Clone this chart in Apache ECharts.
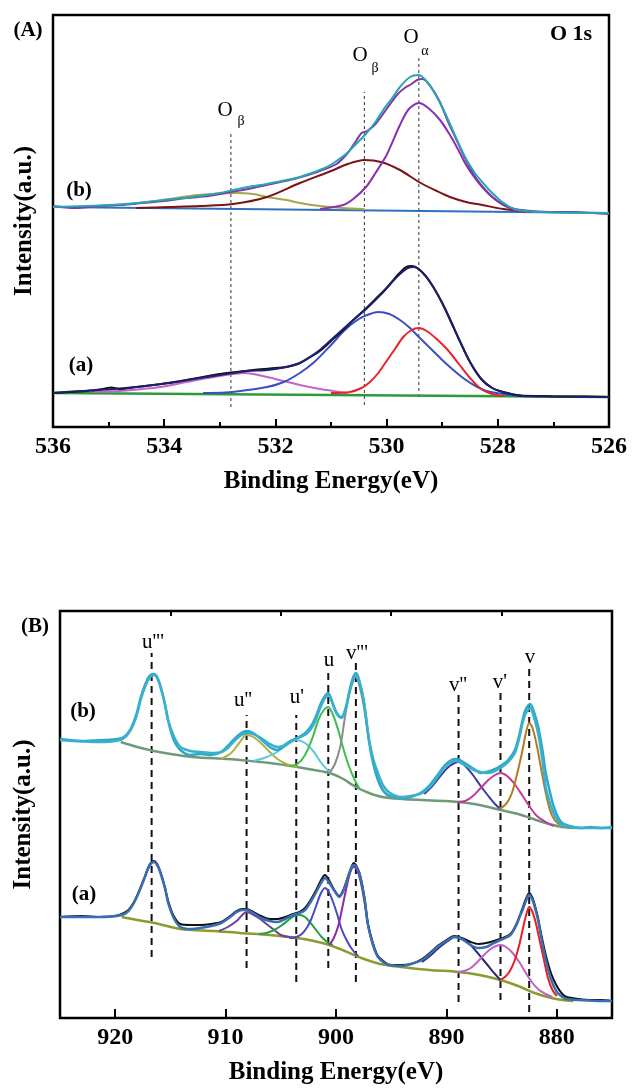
<!DOCTYPE html>
<html><head><meta charset="utf-8">
<script src="https://cdn.jsdelivr.net/npm/echarts@6/dist/echarts.min.js"></script>
<style>html,body{margin:0;padding:0;background:#fff}#c{width:632px;height:1089px}</style>
</head><body><div id="c"></div><script>
// ===== Panel A: O 1s (x: binding energy eV, y: intensity a.u.) =====
const A_TICKS = [526, 528, 530, 532, 534, 536];
// sample (b)
const A_b_base = [[536,220],[526,214]];
const A_b_raw = [[536,221],[535.6,219],[535.2,221],[534.8,222],[534.4,224],[534,226],[533.6,229],[533.2,231],[532.8,235],[532.4,239],[532,244],[531.6,249],[531.2,256],[530.9,263],[530.7,274],[530.55,286],[530.45,294],[530.35,296],[530.2,303],[530.0,318],[529.8,333],[529.65,340],[529.55,343],[529.45,347],[529.35,348],[529.2,340],[529.05,326],[528.9,306],[528.75,288],[528.6,270],[528.45,254],[528.3,242],[528.1,230],[527.9,222],[527.7,218],[527.4,216],[527,215],[526.6,215],[526.3,214],[526,213]];
const A_b_env = [[536,220],[535,222],[534.5,224],[534,227],[533.5,230],[533,234],[532.76,237],[532.5,240],[532.15,243],[531.8,247],[531.56,250],[531.3,255],[531.07,260],[530.9,266],[530.71,274],[530.55,283],[530.39,292],[530.2,305],[530.06,317],[529.9,329],[529.76,340],[529.58,350],[529.42,352],[529.3,347],[529.17,337],[529.0,320],[528.86,303],[528.7,283],[528.57,268],[528.4,253],[528.28,245],[528.1,234],[527.92,225],[527.7,218],[527.4,215.5],[527,214.5],[526,214]];
const A_b_alpha = [[531.2,218],[530.78,222],[530.6,228],[530.37,240],[530.2,254],[530.0,272],[529.76,302],[529.6,318],[529.42,324],[529.25,319],[529.04,307],[528.86,292],[528.7,276],[528.57,262],[528.4,248],[528.28,240],[528.1,230],[527.92,223],[527.7,217],[527.4,215]];
const A_b_beta = [[534.5,219],[533.9,220],[533.36,221],[532.76,223],[532.15,230],[531.56,244],[531.0,256],[530.7,263],[530.4,267],[530.1,265],[529.76,257],[529.42,245],[529.1,236],[528.86,230],[528.57,225],[528.28,222],[527.9,218],[527.5,215.5]];
const A_b_olive = [[535.2,221],[534.8,222],[534.3,225],[533.9,228],[533.4,232],[532.7,234],[532.4,233],[532.15,230],[531.8,227],[531.56,224],[531.2,221],[530.8,219],[530.4,218]];
// sample (a)
const A_a_base = [[536,34],[526,30]];
const A_a_raw = [[536,34],[535.7,35],[535.4,36],[535.1,38],[534.95,39.5],[534.8,38],[534.5,40],[534.2,42],[533.9,44],[533.6,47],[533.3,50],[533.0,53],[532.7,55],[532.4,57],[532.1,58.5],[531.8,60],[531.6,63],[531.4,69],[531.2,76],[531.0,86],[530.8,96],[530.6,107],[530.4,117],[530.2,128],[530.0,139],[529.8,152],[529.65,160],[529.55,161],[529.45,159],[529.3,151],[529.15,139],[529.0,124],[528.85,106],[528.7,88],[528.5,65],[528.3,48],[528.1,39],[527.9,35],[527.6,31.5],[527.2,31],[526.8,30.5],[526.4,30.5],[526,30]];
const A_a_env = [[536,34],[535.5,36],[534.9,38],[534.5,40],[534.06,43],[533.7,46],[533.36,49],[533.0,52],[532.76,54],[532.5,56],[532.15,57],[531.9,59],[531.74,61],[531.56,64],[531.38,70],[531.2,77],[530.96,89],[530.66,104],[530.35,119],[530.06,135],[529.9,145],[529.76,153],[529.62,159],[529.5,160],[529.4,157],[529.28,150],[529.15,139],[529.0,124],[528.86,108],[528.7,88],[528.5,65],[528.28,47],[528.1,39],[527.92,35],[527.56,31],[527,30.5],[526,30]];
const A_a_blue = [[533.3,34],[532.9,34.5],[532.5,37],[532.15,40],[531.85,45],[531.56,54],[531.3,65],[531.0,82],[530.75,97],[530.5,108],[530.3,113],[530.15,115],[529.95,113],[529.76,107],[529.6,100],[529.42,90],[529.2,78],[529.0,67],[528.8,57],[528.6,48],[528.4,41],[528.2,36],[527.9,33],[527.5,31]];
const A_a_red = [[531.0,34],[530.66,35],[530.45,39],[530.3,45],[530.15,54],[530.0,66],[529.85,78],[529.7,90],[529.55,97],[529.42,99],[529.28,96],[529.1,88],[528.9,77],[528.7,63],[528.5,49],[528.3,38],[528.1,33],[527.9,31]];
const A_a_pink = [[535.3,35],[534.8,36],[534.4,38],[534.06,40],[533.6,45],[533.1,50],[532.55,54],[532.15,50],[531.85,46],[531.56,42],[531.2,38],[530.96,36],[530.7,34]];
// reference lines
const A_DASH_E = [532.8, 530.4, 529.42];
const A_DASH_TOP = [295, 335, 372];
const A_DASH_BOT = [20, 22, 30];

// ===== Panel B: Ce 3d =====
const B_TICKS_MAJOR = [920, 910, 900, 890, 880];
const B_TICKS_MINOR = [915, 905, 895, 885];
// sample (b)
const B_b_base = [[919.5,276],[918,271],[916.5,267],[915,264],[913,261],[910,259],[908.7,258],[906,255],[903.5,251],[902,248],[900.6,245],[899.5,240],[898.2,231],[897,225],[895.8,221],[894,219],[892.2,218],[890,217],[888.9,216],[887,213],[885.1,208],[883.5,204],[882.4,200],[881,195],[879.5,191],[878,190]];
const B_b_raw = [[925,279],[923,277],[921,278],[919.8,279],[919.2,281],[918.6,289],[918.1,303],[917.7,320],[917.3,333],[916.9,342],[916.5,344],[916.2,341],[915.9,332],[915.5,314],[915.2,297],[914.7,278],[914.1,268],[913.2,263],[912.3,264],[911.3,263],[910.4,266],[909.8,272],[909.3,278],[908.7,284],[908.1,287],[907.5,285],[906.8,279],[906.0,271],[905.3,268],[904.8,271],[904.3,275],[903.7,279],[903.2,282],[902.6,287],[902.1,295],[901.7,305],[901.4,314],[901.0,322],[900.7,325],[900.4,318],[900.1,309],[899.8,303],[899.5,301],[899.1,311],[898.8,326],[898.5,339],[898.2,345],[897.9,338],[897.5,318],[897.0,276],[896.6,253],[896.2,238],[895.7,227],[895.1,222],[894.1,220],[893.2,221],[892.2,226],[891.5,233],[890.8,243],[890.2,252],[889.7,257],[889.2,259],[888.8,258],[888.2,254],[887.5,249],[886.9,245],[886.4,246],[885.8,248],[885.1,252],[884.4,258],[883.8,268],[883.4,283],[883.1,298],[882.8,309],[882.4,314],[882.1,307],[881.7,292],[881.3,268],[881.0,245],[880.6,225],[880.3,212],[879.9,201],[879.5,195],[878.5,191],[877.7,190],[877,191],[876,190],[875,191]];
const B_b_env = [[925,278],[921.4,276],[920,277],[919.2,280],[918.6,288],[918.1,301],[917.7,318],[917.3,331],[916.9,340],[916.5,343],[916.2,340],[915.9,331],[915.5,314],[915.2,298],[914.7,282],[914.1,271],[913.2,267],[912.3,266],[911.3,265],[910.4,266],[909.8,270],[909.3,276],[908.7,282],[908.1,285],[907.5,284],[906.8,280],[906.0,274],[905.3,271],[904.8,272],[904.3,276],[903.7,279],[903.2,281],[902.6,285],[902.1,292],[901.7,302],[901.4,311],[901.0,320],[900.7,323],[900.4,317],[900.1,308],[899.8,302],[899.5,300],[899.1,310],[898.8,325],[898.5,337],[898.2,342],[897.9,336],[897.5,318],[897.0,278],[896.6,258],[896.2,245],[895.7,232],[895.1,225],[894.1,221],[893.2,222],[892.2,225],[891.5,231],[890.8,241],[890.2,250],[889.7,255],[889.2,257],[888.8,256],[888.2,252],[887.5,248],[886.9,246],[886.4,245],[885.8,246],[885.1,250],[884.4,256],[883.8,265],[883.4,280],[883.1,295],[882.8,305],[882.4,310],[882.1,302],[881.7,285],[881.3,258],[881.0,231],[880.6,214],[880.3,205],[879.9,197],[879.5,193],[878.5,191],[877.7,190],[876,190],[875,190]];
const B_b_u2 = [[910.4,259],[909.5,265],[908.7,276],[908.1,283],[907.5,281],[906.8,275],[906.0,266],[905.3,259],[904.5,254],[903.5,251]];
const B_b_u1 = [[907.5,257],[906.5,260],[905.5,265],[904.6,272],[903.6,278],[902.8,275],[902.0,266],[901.4,256],[900.6,246]];
const B_b_u = [[904.2,252],[903.5,254],[902.8,263],[902.1,281],[901.6,298],[901.1,308],[900.7,311],[900.3,304],[899.8,288],[899.3,268],[898.8,251],[898.3,238],[897.9,230]];
const B_b_v3 = [[900.6,245],[900.1,254],[899.6,272],[899.2,300],[898.8,324],[898.4,338],[898.2,341],[897.9,333],[897.5,313],[897.0,277],[896.5,250],[896.0,233],[895.5,224],[894.8,220]];
const B_b_v2 = [[892.0,224],[891.2,233],[890.4,244],[889.7,252],[888.9,256],[888.3,252],[887.6,243],[886.9,232],[886.2,222],[885.6,214],[885.1,209]];
const B_b_v1 = [[889.0,216],[888.3,217],[887.6,222],[886.9,230],[886.2,238],[885.6,243],[885.1,245],[884.5,242],[883.9,235],[883.2,224],[882.5,212],[881.8,202],[881.0,196],[880.3,192]];
const B_b_v = [[885.2,209],[884.6,214],[884.1,224],[883.6,244],[883.1,268],[882.8,285],[882.5,295],[882.2,290],[881.8,272],[881.4,248],[881.0,225],[880.6,207],[880.2,198],[879.7,193]];
// sample (a)
const B_a_base = [[919.4,101],[918,98],[916.4,95],[914.1,89],[911,87],[908.7,85],[906,83],[903.5,80],[902,77],[900.6,73],[899.2,67],[897.7,60],[896,54],[894.1,51],[891.5,48],[888.9,46],[887,43],[885.1,38],[883.5,32],[882.0,25],[880.5,20],[879.5,18],[878.5,17]];
const B_a_raw = [[925,101],[923,102],[921.4,101],[920,102],[919.4,104],[918.8,108],[918.3,116],[917.8,128],[917.3,142],[916.9,153],[916.5,157],[916.2,154],[915.9,146],[915.5,131],[915.2,117],[914.7,102],[914.1,94],[913.2,93],[912.3,93],[911.3,94],[910.4,96],[909.7,101],[909.0,107],[908.5,109],[908.1,109],[907.5,106],[906.8,102],[906.0,99],[905.3,99],[904.6,101],[903.9,104],[903.3,106],[902.8,110],[902.3,118],[901.7,130],[901.3,139],[901.0,143],[900.6,137],[900.2,129],[899.7,122],[899.3,129],[898.9,142],[898.6,151],[898.4,155],[898.1,151],[897.8,142],[897.4,119],[897.1,94],[896.6,73],[896.2,62],[895.6,56],[895.1,53],[894.1,53],[893.2,54],[892.2,59],[891.5,65],[890.8,72],[890.0,78],[889.3,82],[888.6,80],[887.8,76],[887.1,74],[886.4,75],[885.7,77],[884.9,80],[884.2,84],[883.7,93],[883.3,104],[883.1,110],[882.8,119],[882.5,125],[882.2,120],[881.9,109],[881.7,100],[881.4,83],[881.0,63],[880.5,44],[880.0,32],[879.5,24],[879.1,21],[878,19],[877,18],[876,18],[875,17]];
const B_a_env = [[925,101],[921.4,101],[919.4,103],[918.8,107],[918.3,115],[917.8,127],[917.3,141],[916.9,152],[916.5,156],[916.2,153],[915.9,145],[915.5,130],[915.2,115],[914.7,100],[914.1,91],[913.2,89],[912.3,90],[911.3,92],[910.4,95],[909.7,100],[909.0,106],[908.5,108],[908.1,108],[907.5,105],[906.8,100],[906.0,97],[905.3,96],[904.6,99],[903.9,103],[903.3,105],[902.8,108],[902.3,116],[901.7,128],[901.3,136],[901.0,140],[900.6,135],[900.2,128],[899.7,121],[899.3,128],[898.9,141],[898.6,150],[898.4,153],[898.1,150],[897.8,141],[897.4,118],[897.1,93],[896.6,72],[896.2,61],[895.6,55],[895.1,53],[894.1,52],[893.2,54],[892.2,58],[891.5,64],[890.8,71],[890.0,77],[889.3,81],[888.6,79],[887.8,73],[887.1,70],[886.4,71],[885.7,75],[884.9,79],[884.2,83],[883.7,92],[883.3,103],[883.1,108],[882.8,117],[882.5,123],[882.2,118],[881.9,107],[881.7,98],[881.4,80],[881.0,58],[880.5,38],[880.0,26],[879.5,21],[879.1,19],[878,18],[876,17],[875,17]];
const B_a_u2 = [[910.6,87],[909.8,91],[909.0,97],[908.5,103],[908.1,106],[907.6,104],[907.0,100],[906.3,94],[905.6,88],[905.0,83],[904.3,81],[903.6,80]];
const B_a_u1 = [[907.0,84],[906.3,85],[905.6,88],[905.0,92],[904.3,98],[903.8,102],[903.3,103],[902.8,101],[902.3,95],[901.8,88],[901.3,81],[900.8,76],[900.3,73]];
const B_a_u = [[904.2,80],[903.6,81],[903.1,84],[902.6,91],[902.2,100],[901.8,112],[901.4,124],[901.0,130],[900.7,127],[900.3,117],[899.9,104],[899.5,89],[899.0,77],[898.5,68],[898.0,62]];
const B_a_v3 = [[900.6,73],[900.2,80],[899.8,92],[899.4,112],[899.0,133],[898.7,146],[898.4,151],[898.1,148],[897.8,138],[897.4,115],[897.1,93],[896.7,74],[896.3,63],[895.8,57]];
const B_a_v2 = [[892.2,56],[891.5,62],[890.8,69],[890.0,76],[889.2,81],[888.6,79],[888.0,75],[887.4,68],[886.8,60],[886.2,52],[885.6,44],[885.1,38]];
const B_a_v1 = [[889.0,46],[888.4,47],[887.8,50],[887.2,56],[886.6,63],[886.0,69],[885.5,72],[885.1,73],[884.6,71],[884.0,65],[883.4,56],[882.8,45],[882.2,35],[881.6,28],[881.0,24],[880.4,21]];
const B_a_v = [[885.1,38],[884.6,42],[884.2,48],[883.8,58],[883.4,73],[883.0,93],[882.7,106],[882.5,111],[882.2,106],[881.9,95],[881.6,80],[881.2,60],[880.8,40],[880.4,28],[880.0,22]];
// reference lines
const B_DASH_E = [916.7, 908.1, 903.6, 900.7, 898.2, 888.9, 885.1, 882.5];
const B_DASH_TOP = [365, 303, 303, 346, 356, 326, 330, 349];
const B_DASH_BOT = [61, 50, 36, 50, 36, 16, 18, 6];

const SERIF = 'Liberation Serif';
const chart = echarts.init(document.getElementById('c'), null, {renderer: 'canvas'});

function ln(data, color, gi, z, width) {
  return {type: 'line', xAxisIndex: gi, yAxisIndex: gi, data: data, smooth: 0.3, symbol: 'none',
    silent: true, animation: false, z: z || 3, lineStyle: {color: color, width: width || 2}};
}
function dashes(E, top, bot, gi, style) {
  return E.map((e, i) => ({type: 'line', xAxisIndex: gi, yAxisIndex: gi, symbol: 'none', silent: true,
    animation: false, z: 1, data: [[e, bot[i]], [e, top[i]]], lineStyle: style}));
}

const series = [].concat(
  dashes(A_DASH_E, A_DASH_TOP, A_DASH_BOT, 0, {color: '#333', width: 1, type: [3, 3]}),
  [
    ln(A_b_base, '#2f6fc0', 0, 2),
    ln(A_b_olive, '#a8a648', 0),
    ln(A_b_beta, '#7a1414', 0),
    ln(A_b_alpha, '#8a2fb0', 0),
    ln(A_b_raw, '#7c3aa6', 0, 4),
    ln(A_b_env, '#2aa3b3', 0, 5),
    ln(A_a_base, '#2a9a3a', 0, 2, 2.5),
    ln(A_a_pink, '#c463c8', 0),
    ln(A_a_blue, '#3b4fc4', 0),
    ln(A_a_red, '#e8242a', 0),
    ln(A_a_raw, '#111111', 0, 4),
    ln(A_a_env, '#1e1e6e', 0, 5)
  ],
  dashes(B_DASH_E, B_DASH_TOP, B_DASH_BOT, 1, {color: '#111', width: 2, type: [7, 5]}),
  [
    ln(B_b_base, '#6f9a7a', 1, 2, 2.5),
    ln(B_b_u2, '#b0b040', 1),
    ln(B_b_u1, '#5cc8d8', 1),
    ln(B_b_u, '#3cbf4c', 1),
    ln(B_b_v3, '#8c8c8c', 1),
    ln(B_b_v2, '#3c3c9c', 1),
    ln(B_b_v1, '#c03a98', 1),
    ln(B_b_v, '#b57a20', 1),
    ln(B_b_raw, '#2ea8c8', 1, 4, 2.5),
    ln(B_b_env, '#3ab0cc', 1, 5, 2.5),
    ln(B_a_base, '#8c9a30', 1, 2, 2.5),
    ln(B_a_u2, '#6c3fa0', 1),
    ln(B_a_u1, '#22a045', 1),
    ln(B_a_u, '#4a4ac0', 1),
    ln(B_a_v3, '#8a2aa8', 1),
    ln(B_a_v2, '#2a2a7a', 1),
    ln(B_a_v1, '#c060c8', 1),
    ln(B_a_v, '#e82020', 1),
    ln(B_a_raw, '#111111', 1, 4),
    ln(B_a_env, '#3b6db3', 1, 5, 2.5)
  ]
);

const labelStyle = {color: '#000', fontFamily: SERIF, fontWeight: 'bold', fontSize: 24};
const nameStyle = {color: '#000', fontFamily: SERIF, fontWeight: 'bold', fontSize: 25};

function txt(x, y, s, size, bold) {
  return {type: 'text', x: x, y: y, silent: true, z: 10,
    style: {text: s, fill: '#000', font: (bold ? 'bold ' : '') + size + 'px "' + SERIF + '"',
      textAlign: 'center', textVerticalAlign: 'middle', verticalAlign: 'middle'}};
}

const option = {
  animation: false,
  backgroundColor: '#fff',
  grid: [
    {left: 53, top: 15, width: 556, height: 412, show: true, borderColor: '#000', borderWidth: 2.5, backgroundColor: 'transparent'},
    {left: 60, top: 611, width: 552, height: 407, show: true, borderColor: '#000', borderWidth: 2.5, backgroundColor: 'transparent'}
  ],
  xAxis: [
    {gridIndex: 0, type: 'value', min: 526, max: 536, interval: 2, inverse: true,
      axisLine: {show: false}, splitLine: {show: false},
      axisTick: {show: true, inside: true, length: 8, lineStyle: {color: '#000', width: 2}},
      minorTick: {show: true, splitNumber: 2, length: 5, lineStyle: {color: '#000', width: 2}},
      axisLabel: Object.assign({margin: 8, customValues: A_TICKS}, labelStyle),
      name: 'Binding Energy(eV)', nameLocation: 'middle', nameGap: 42, nameTextStyle: nameStyle},
    {gridIndex: 1, type: 'value', min: 875, max: 925, inverse: true,
      axisLine: {show: false}, splitLine: {show: false},
      axisTick: {show: true, inside: true, length: 9, customValues: B_TICKS_MAJOR, lineStyle: {color: '#000', width: 2}},
      axisLabel: Object.assign({margin: 8, customValues: B_TICKS_MAJOR}, labelStyle),
      name: 'Binding Energy(eV)', nameLocation: 'middle', nameGap: 42, nameTextStyle: nameStyle},
    {gridIndex: 1, type: 'value', min: 875, max: 925, inverse: true,
      axisLine: {show: false}, splitLine: {show: false}, axisLabel: {show: false},
      axisTick: {show: true, inside: true, length: 5, customValues: B_TICKS_MINOR, lineStyle: {color: '#000', width: 2}}}
  ],
  yAxis: [
    {gridIndex: 0, type: 'value', min: 0, max: 412, axisLine: {show: false}, axisTick: {show: false},
      axisLabel: {show: false}, splitLine: {show: false},
      name: 'Intensity(a.u.)', nameLocation: 'middle', nameGap: 16, nameTextStyle: nameStyle},
    {gridIndex: 1, type: 'value', min: 0, max: 407, axisLine: {show: false}, axisTick: {show: false},
      axisLabel: {show: false}, splitLine: {show: false},
      name: 'Intensity(a.u.)', nameLocation: 'middle', nameGap: 24, nameTextStyle: nameStyle}
  ],
  graphic: [
    txt(28, 31, '(A)', 21, true),
    txt(571, 34, 'O 1s', 22, true),
    txt(79, 191, '(b)', 21, true),
    txt(81, 366, '(a)', 21, true),
    txt(225, 110, 'O', 21, false), txt(241, 121, 'β', 14, false),
    txt(360, 55, 'O', 21, false), txt(375, 68, 'β', 14, false),
    txt(411, 37, 'O', 21, false), txt(425, 51, 'α', 14, false),
    txt(35, 627, '(B)', 21, true),
    txt(83, 712, '(b)', 21, true),
    txt(84, 895, '(a)', 21, true),
    txt(153, 642, "u'''", 21, false),
    txt(243, 700, "u''", 21, false),
    txt(297, 697, "u'", 21, false),
    txt(329, 660, 'u', 21, false),
    txt(357, 653, "v'''", 21, false),
    txt(458, 685, "v''", 21, false),
    txt(500, 682, "v'", 21, false),
    txt(530, 657, 'v', 21, false)
  ],
  series: series
};
chart.setOption(option);
</script></body></html>
